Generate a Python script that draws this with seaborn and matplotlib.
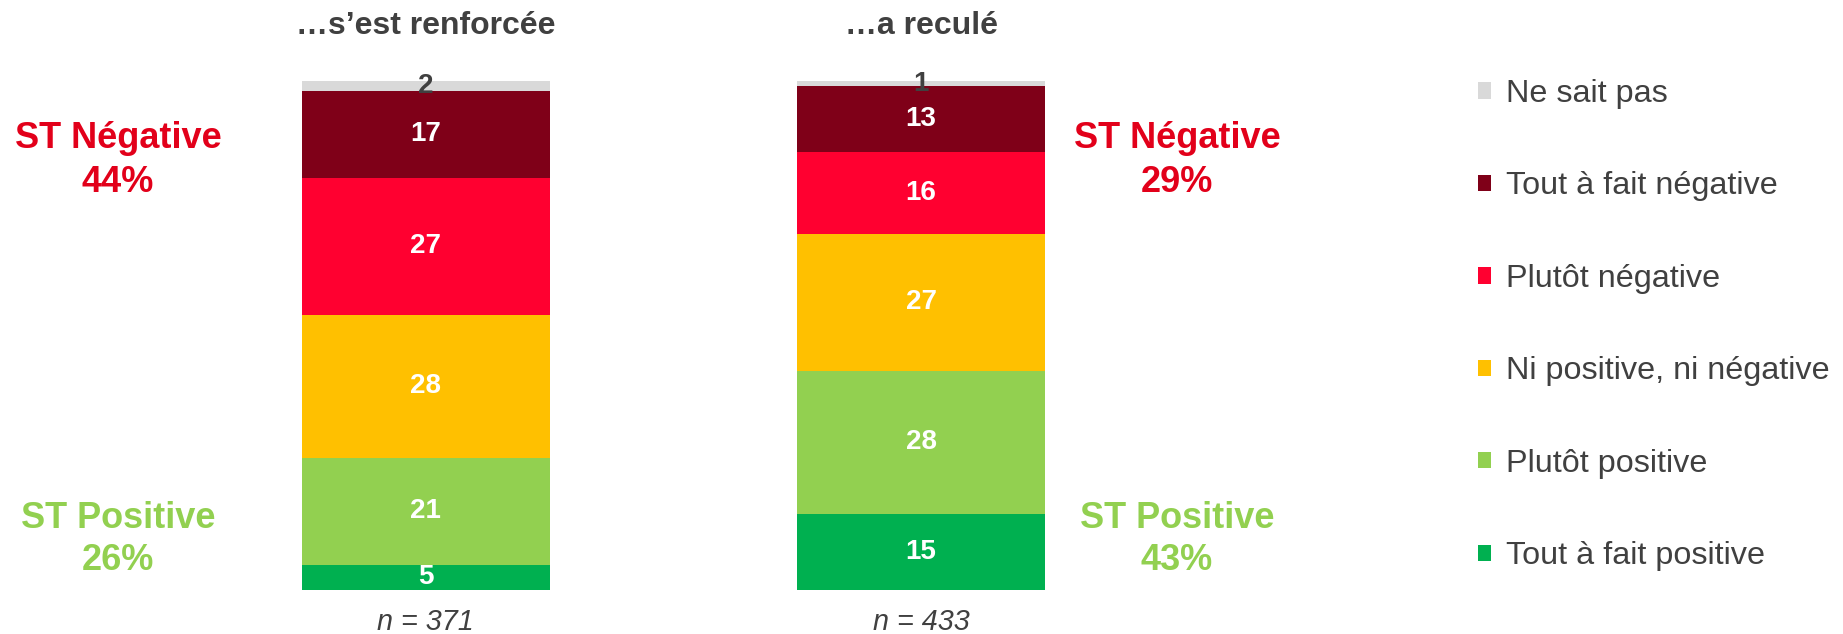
import pandas as pd
import numpy as np
import seaborn as sns
import matplotlib.pyplot as plt
from matplotlib.patches import Patch

# Data
groups = ["…s’est renforcée", "…a reculé"]
sample_sizes = ["n = 371", "n = 433"]
categories = ["Ne sait pas", "Tout à fait négative", "Plutôt négative",
              "Ni positive, ni négative", "Plutôt positive", "Tout à fait positive"]
colors = ["#D9D9D9", "#7F0018", "#FF0030", "#FFC000", "#92D050", "#00B050"]
renforcee = [2, 17, 27, 28, 21, 5]
recule = [1, 13, 16, 27, 28, 15]
st_negative = ["44%", "29%"]
st_positive = ["26%", "43%"]

sns.set_style("white")
plt.rcParams['font.family'] = ['Liberation Sans', 'DejaVu Sans']

W, H = 1843, 634
GREY = "#404040"
RED = "#E2001A"
GREEN = "#92D050"

# long format + cumulated values from the bottom of each bar
df = pd.DataFrame({"groupe": np.repeat(groups, len(categories)),
                   "categorie": categories * 2,
                   "valeur": renforcee + recule})
df["cumul"] = df.iloc[::-1].groupby("groupe")["valeur"].cumsum()

fig = plt.figure(figsize=(W / 100, H / 100), dpi=100)
ax = fig.add_axes([302 / W, 44 / H, 743 / W, 509 / H])

# stacked bars: draw tallest cumul first, then overlay the lower ones
for cat, col in zip(categories, colors):
    sub = df[df["categorie"] == cat]
    sns.barplot(data=sub, x="groupe", y="cumul", order=groups, color=col,
                width=0.5, saturation=1, errorbar=None, linewidth=0, ax=ax)

# segment values
for i, g in enumerate(groups):
    sub = df[df["groupe"] == g]
    for _, row in sub.iterrows():
        y = row["cumul"] - row["valeur"] / 2
        txt_col = GREY if row["categorie"] == "Ne sait pas" else "white"
        ax.text(i, y, str(row["valeur"]), ha="center", va="center",
                fontsize=20, fontweight="bold", color=txt_col, clip_on=False)
    ax.text(i, 110.8, g, ha="center", va="center", fontsize=23,
            fontweight="bold", color=GREY, clip_on=False)
    ax.text(i, -6.3, sample_sizes[i], ha="center", va="center", fontsize=20.7,
            fontstyle="italic", color=GREY, clip_on=False)

ax.set_xlim(-0.25, 1.25)
ax.set_ylim(0, 100)
ax.axis("off")

# ST annotations
for xc, neg, pos in [(118, st_negative[0], st_positive[0]),
                     (1177, st_negative[1], st_positive[1])]:
    fig.text(xc / W, 1 - 139 / H, "ST Négative", ha="center", va="center",
             fontsize=26, fontweight="bold", color=RED)
    fig.text(xc / W, 1 - 183 / H, neg, ha="center", va="center",
             fontsize=26, fontweight="bold", color=RED)
    fig.text(xc / W, 1 - 518 / H, "ST Positive", ha="center", va="center",
             fontsize=26, fontweight="bold", color=GREEN)
    fig.text(xc / W, 1 - 560 / H, pos, ha="center", va="center",
             fontsize=26, fontweight="bold", color=GREEN)

handles = [Patch(facecolor=c, edgecolor="none") for c in colors]
fig.legend(handles, categories, loc="upper left",
           bbox_to_anchor=(1478 / W, 1 - 79 / H), frameon=False,
           fontsize=23.3, handlelength=0.4, handleheight=0.4,
           handletextpad=0.45, labelspacing=1.93, borderpad=0,
           borderaxespad=0, labelcolor=GREY)

plt.savefig("out.png", dpi=100)
